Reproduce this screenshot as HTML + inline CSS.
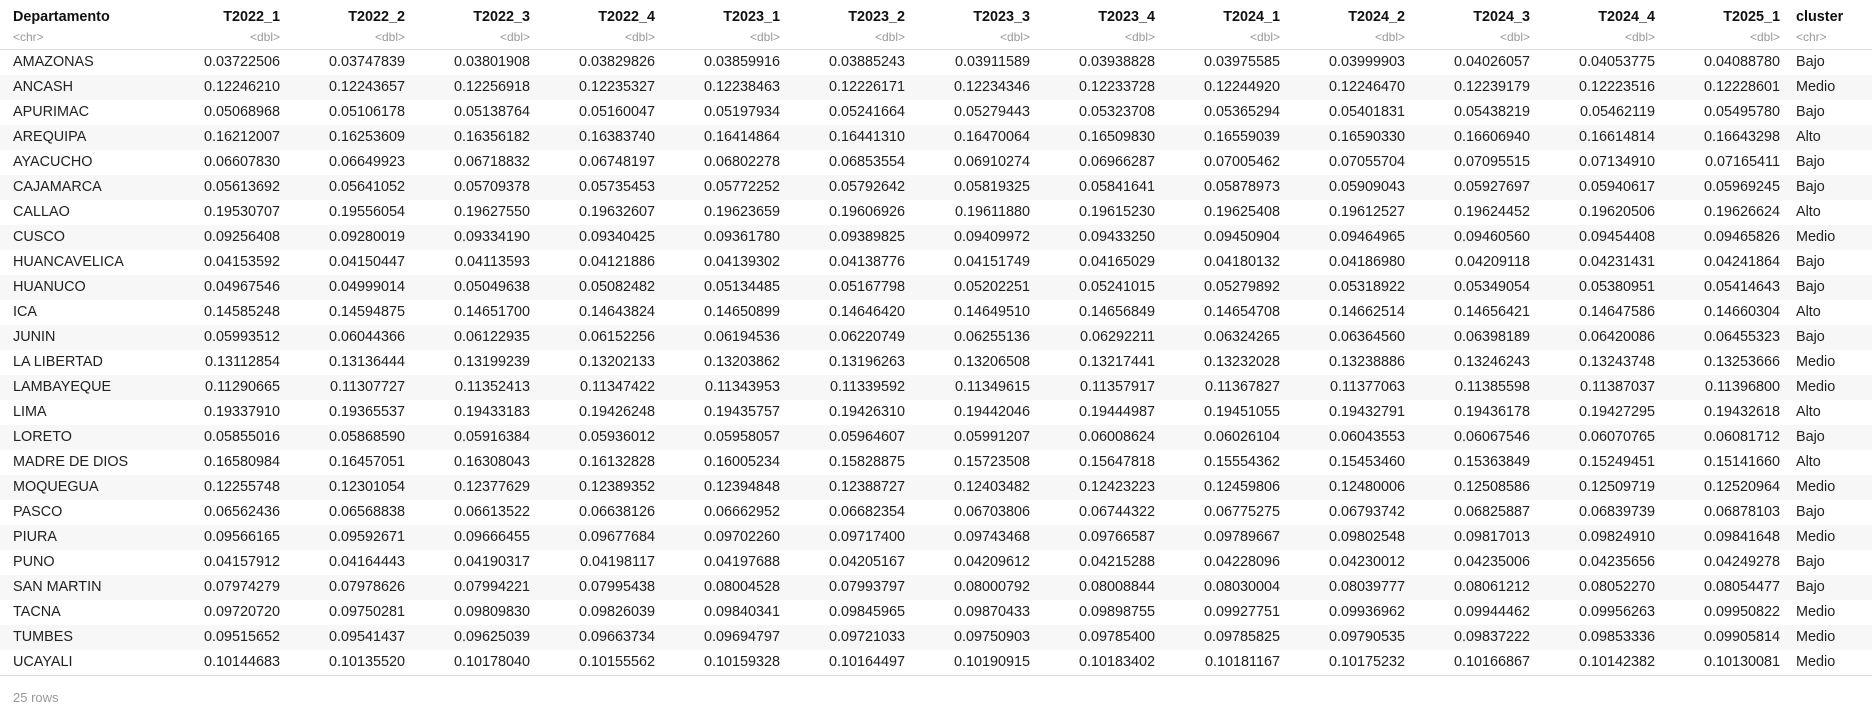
<!DOCTYPE html>
<html><head><meta charset="utf-8"><style>
body{margin:0;background:#fff;width:1872px;height:710px;overflow:hidden;font-family:"Segoe UI","Liberation Sans",sans-serif;color:#222;position:relative}
.c{position:absolute;font-size:14.4px;white-space:nowrap;line-height:25px}
.r{text-align:right}
.h{font-weight:bold;color:#111;line-height:20px}
.t{color:#999;font-size:12px;line-height:16px}
.row{position:absolute;left:0;width:1872px;height:25px}
</style></head><body>
<div id="tbl"></div>
<div style="position:absolute;left:0;top:49px;width:1872px;height:1px;background:#ddd"></div>
<div id="bot" style="position:absolute;left:0;top:675px;width:1872px;height:1px;background:#ddd"></div>
<div class="c" style="left:13px;top:685px;color:#999;font-size:13px">25 rows</div>
<script>
const cols=["T2022_1","T2022_2","T2022_3","T2022_4","T2023_1","T2023_2","T2023_3","T2023_4","T2024_1","T2024_2","T2024_3","T2024_4","T2025_1"];
const depts=["AMAZONAS","ANCASH","APURIMAC","AREQUIPA","AYACUCHO","CAJAMARCA","CALLAO","CUSCO","HUANCAVELICA","HUANUCO","ICA","JUNIN","LA LIBERTAD","LAMBAYEQUE","LIMA","LORETO","MADRE DE DIOS","MOQUEGUA","PASCO","PIURA","PUNO","SAN MARTIN","TACNA","TUMBES","UCAYALI"];
const clusters=["Bajo","Medio","Bajo","Alto","Bajo","Bajo","Alto","Medio","Bajo","Bajo","Alto","Bajo","Medio","Medio","Alto","Bajo","Alto","Medio","Bajo","Medio","Bajo","Bajo","Medio","Medio","Medio"];
const vals=[
["0.03722506","0.03747839","0.03801908","0.03829826","0.03859916","0.03885243","0.03911589","0.03938828","0.03975585","0.03999903","0.04026057","0.04053775","0.04088780"],
["0.12246210","0.12243657","0.12256918","0.12235327","0.12238463","0.12226171","0.12234346","0.12233728","0.12244920","0.12246470","0.12239179","0.12223516","0.12228601"],
["0.05068968","0.05106178","0.05138764","0.05160047","0.05197934","0.05241664","0.05279443","0.05323708","0.05365294","0.05401831","0.05438219","0.05462119","0.05495780"],
["0.16212007","0.16253609","0.16356182","0.16383740","0.16414864","0.16441310","0.16470064","0.16509830","0.16559039","0.16590330","0.16606940","0.16614814","0.16643298"],
["0.06607830","0.06649923","0.06718832","0.06748197","0.06802278","0.06853554","0.06910274","0.06966287","0.07005462","0.07055704","0.07095515","0.07134910","0.07165411"],
["0.05613692","0.05641052","0.05709378","0.05735453","0.05772252","0.05792642","0.05819325","0.05841641","0.05878973","0.05909043","0.05927697","0.05940617","0.05969245"],
["0.19530707","0.19556054","0.19627550","0.19632607","0.19623659","0.19606926","0.19611880","0.19615230","0.19625408","0.19612527","0.19624452","0.19620506","0.19626624"],
["0.09256408","0.09280019","0.09334190","0.09340425","0.09361780","0.09389825","0.09409972","0.09433250","0.09450904","0.09464965","0.09460560","0.09454408","0.09465826"],
["0.04153592","0.04150447","0.04113593","0.04121886","0.04139302","0.04138776","0.04151749","0.04165029","0.04180132","0.04186980","0.04209118","0.04231431","0.04241864"],
["0.04967546","0.04999014","0.05049638","0.05082482","0.05134485","0.05167798","0.05202251","0.05241015","0.05279892","0.05318922","0.05349054","0.05380951","0.05414643"],
["0.14585248","0.14594875","0.14651700","0.14643824","0.14650899","0.14646420","0.14649510","0.14656849","0.14654708","0.14662514","0.14656421","0.14647586","0.14660304"],
["0.05993512","0.06044366","0.06122935","0.06152256","0.06194536","0.06220749","0.06255136","0.06292211","0.06324265","0.06364560","0.06398189","0.06420086","0.06455323"],
["0.13112854","0.13136444","0.13199239","0.13202133","0.13203862","0.13196263","0.13206508","0.13217441","0.13232028","0.13238886","0.13246243","0.13243748","0.13253666"],
["0.11290665","0.11307727","0.11352413","0.11347422","0.11343953","0.11339592","0.11349615","0.11357917","0.11367827","0.11377063","0.11385598","0.11387037","0.11396800"],
["0.19337910","0.19365537","0.19433183","0.19426248","0.19435757","0.19426310","0.19442046","0.19444987","0.19451055","0.19432791","0.19436178","0.19427295","0.19432618"],
["0.05855016","0.05868590","0.05916384","0.05936012","0.05958057","0.05964607","0.05991207","0.06008624","0.06026104","0.06043553","0.06067546","0.06070765","0.06081712"],
["0.16580984","0.16457051","0.16308043","0.16132828","0.16005234","0.15828875","0.15723508","0.15647818","0.15554362","0.15453460","0.15363849","0.15249451","0.15141660"],
["0.12255748","0.12301054","0.12377629","0.12389352","0.12394848","0.12388727","0.12403482","0.12423223","0.12459806","0.12480006","0.12508586","0.12509719","0.12520964"],
["0.06562436","0.06568838","0.06613522","0.06638126","0.06662952","0.06682354","0.06703806","0.06744322","0.06775275","0.06793742","0.06825887","0.06839739","0.06878103"],
["0.09566165","0.09592671","0.09666455","0.09677684","0.09702260","0.09717400","0.09743468","0.09766587","0.09789667","0.09802548","0.09817013","0.09824910","0.09841648"],
["0.04157912","0.04164443","0.04190317","0.04198117","0.04197688","0.04205167","0.04209612","0.04215288","0.04228096","0.04230012","0.04235006","0.04235656","0.04249278"],
["0.07974279","0.07978626","0.07994221","0.07995438","0.08004528","0.07993797","0.08000792","0.08008844","0.08030004","0.08039777","0.08061212","0.08052270","0.08054477"],
["0.09720720","0.09750281","0.09809830","0.09826039","0.09840341","0.09845965","0.09870433","0.09898755","0.09927751","0.09936962","0.09944462","0.09956263","0.09950822"],
["0.09515652","0.09541437","0.09625039","0.09663734","0.09694797","0.09721033","0.09750903","0.09785400","0.09785825","0.09790535","0.09837222","0.09853336","0.09905814"],
["0.10144683","0.10135520","0.10178040","0.10155562","0.10159328","0.10164497","0.10190915","0.10183402","0.10181167","0.10175232","0.10166867","0.10142382","0.10130081"]];
const T=document.getElementById('tbl');
function cell(txt,cls,style,name){const d=document.createElement('div');d.className='c '+cls;d.style.cssText=style;d.textContent=txt;


T.appendChild(d);return d;}
const ROW0=50,RH=25;
function colRight(j){return 280+125*j;}
cell('Departamento','h','left:13px;top:7px','header-departamento');
cell('<chr>','t','left:13px;top:29px','type-departamento');
cols.forEach((c,j)=>{cell(c,'h r',`right:${1872-colRight(j)}px;top:7px`,'header-'+c.toLowerCase());
cell('<dbl>','t r',`right:${1872-colRight(j)}px;top:29px`,'type-'+c.toLowerCase());});
cell('cluster','h','left:1796px;top:7px','header-cluster');
cell('<chr>','t','left:1796px;top:29px','type-cluster');
depts.forEach((d,i)=>{const y=ROW0+RH*i;
const r=document.createElement('div');r.className='row';r.style.top=y+'px';r.style.background=i%2?'#f7f7f7':'#fff';


T.appendChild(r);
cell(d,'',`left:13px;top:${y}px`,'departamento-cell');
vals[i].forEach((v,j)=>cell(v,'r',`right:${1872-colRight(j)}px;top:${y}px`,'value-cell'));
cell(clusters[i],'',`left:1796px;top:${y}px`,'cluster-cell');});
document.getElementById('bot').style.top=(ROW0+RH*depts.length)+'px';
</script>
</body></html>
